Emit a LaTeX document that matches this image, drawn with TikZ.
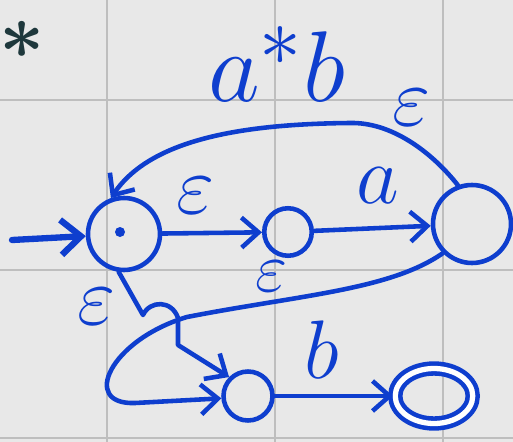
\documentclass[tikz,border=0pt]{standalone}
\usepackage{amsmath}
\usepackage{amssymb}
\usepackage{graphicx}
\usepackage{tikz}
\usepackage{xcolor}
\usetikzlibrary{arrows.meta,positioning,shapes.geometric}
\definecolor{inkblue}{RGB}{14,62,206}
\definecolor{inkdark}{RGB}{30,56,60}
\definecolor{paper}{RGB}{232,232,232}
\definecolor{gridgray}{RGB}{190,190,190}
\newcommand{\ink}[2]{\scalebox{#1}{$#2$}}

\begin{document}
\begin{tikzpicture}[x=0.02cm, y=-0.02cm, >={Straight Barb[length=3.4mm,width=6mm]},
    state/.style={draw=inkblue, line width=2.6pt, circle, inner sep=0pt},
    edge/.style={->, draw=inkblue, line width=2.6pt, line cap=round, line join=round},
    lbl/.style={text=inkblue, font=\Huge, inner sep=0pt}]
  \fill[paper] (0,0) rectangle (513,442);
  \useasboundingbox (0,0) rectangle (513,442);
  \foreach \gx in {107,275,443} \draw[gridgray, line width=0.8pt] (\gx,0) -- (\gx,442);
  \foreach \gy in {100,270,438} \draw[gridgray, line width=0.8pt] (0,\gy) -- (513,\gy);

  % title and mark
  \node[lbl, text=inkdark] (mark) at (22,40) {\ink{1.8}{\boldsymbol{\ast}}};
  \node[lbl] (re) at (277,64) {\ink{2.3}{a^{*}b}};

  % states
  \node[state, minimum size=1.44cm] (q0) at (124,234) {};
  \fill[inkblue] (120,232) circle (5);
  \node[state, minimum size=0.95cm] (q1) at (288,232) {};
  \node[state, minimum size=1.56cm] (q2) at (472,224) {};
  \node[state, minimum size=0.98cm] (q3) at (248,396) {};
  \node[state, ellipse, double, double distance=3pt, minimum width=1.55cm, minimum height=1.1cm] (q4) at (434,396) {};

  % transitions
  \coordinate (s) at (12,240);
  \draw[edge, line width=3.6pt, -{Straight Barb[length=4mm,width=7mm]}] (s) -- (q0);
  \draw[edge] (q0) -- (q1);
  \draw[edge] (q1) -- (q2);
  \draw[edge] (q2.110) .. controls (430,150) and (390,122) .. (350,123)
    .. controls (240,124) and (150,140) .. (q0.110);
  \draw[edge] (q2.225) .. controls (390,290) and (300,295) .. (187,317)
    .. controls (110,340) and (80,405) .. (135,403) -- (q3.185);
  \draw[edge] (q0.262) -- (143,315) .. controls (150,300) and (172,300) .. (178,318)
    -- (178,345) -- (q3.135);
  \draw[edge] (q3) -- (q4);

  % labels
  \node[lbl] (l01) at (196,196) {\ink{1.9}{\varepsilon}};
  \node[lbl] (l12) at (378,186) {\ink{1.9}{a}};
  \node[lbl] (l20) at (412,108) {\ink{1.9}{\varepsilon}};
  \node[lbl] (l23) at (272,276) {\ink{1.6}{\varepsilon}};
  \node[lbl] (l03) at (97,307) {\ink{1.9}{\varepsilon}};
  \node[lbl] (l34) at (322,350) {\ink{1.9}{b}};
\end{tikzpicture}
\end{document}
